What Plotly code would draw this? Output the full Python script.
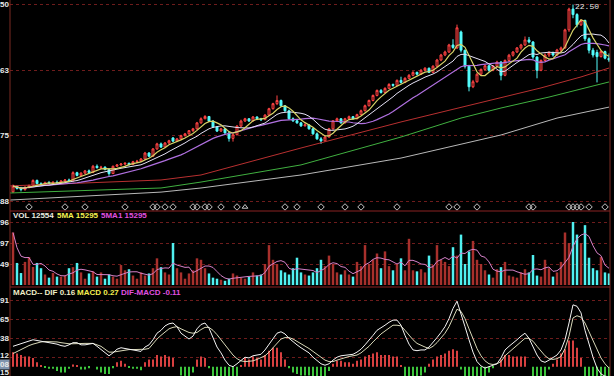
import plotly.graph_objects as go
import pandas as pd

# ---------------- data ----------------
opens = [14.30,14.55,14.45,14.40,14.50,14.58,14.80,14.66,14.62,14.70,
         14.68,14.72,14.70,14.78,14.82,14.78,15.14,15.02,15.12,15.22,
         15.15,15.42,15.36,15.38,15.28,15.10,15.42,15.48,15.52,15.55,
         15.50,15.62,15.64,15.74,16.00,15.86,16.18,16.40,16.26,16.44,
         16.66,16.52,16.62,16.76,16.84,16.98,17.06,17.32,17.50,17.60,
         17.40,17.14,16.96,17.06,16.88,16.64,16.80,17.18,17.40,17.50,
         17.40,17.58,17.50,17.46,17.66,17.94,18.16,18.30,18.07,17.85,
         17.50,17.41,17.32,17.19,17.23,17.06,16.84,16.62,16.53,16.70,
         17.06,17.41,17.50,17.32,17.50,17.59,17.50,17.68,17.85,18.07,
         18.30,18.52,18.74,18.65,18.83,19.00,18.96,19.18,19.09,19.27,
         19.40,19.53,19.45,19.62,19.71,19.53,19.80,20.07,20.29,20.42,
         20.73,20.60,21.30,20.50,19.80,18.90,19.12,19.45,19.66,19.82,
         19.62,19.80,19.98,19.40,20.05,20.28,20.42,20.60,20.73,20.95,
         20.86,20.20,19.62,20.05,20.29,20.40,20.29,20.51,20.60,21.39,
         22.30,22.06,21.61,21.80,21.00,20.50,20.40,20.22,20.44,20.15]
highs = [14.62,14.60,14.52,14.55,14.62,14.85,14.84,14.72,14.75,14.78,
         14.76,14.80,14.82,14.86,14.88,15.20,15.18,15.16,15.26,15.28,
         15.48,15.50,15.44,15.42,15.32,15.45,15.52,15.56,15.60,15.58,
         15.66,15.70,15.78,16.05,16.04,16.22,16.45,16.46,16.48,16.58,
         16.70,16.66,16.80,16.88,17.00,17.10,17.36,17.56,17.66,17.62,
         17.44,17.18,17.10,17.08,16.92,16.84,17.22,17.46,17.54,17.52,
         17.62,17.60,17.54,17.70,17.98,18.20,18.52,18.34,18.10,17.90,
         17.56,17.48,17.36,17.30,17.26,17.10,16.90,16.70,16.76,17.10,
         17.44,17.55,17.52,17.54,17.64,17.62,17.72,17.90,18.12,18.34,
         18.56,18.78,18.80,18.88,19.06,19.04,19.22,19.34,19.32,19.46,
         19.58,19.56,19.68,19.76,19.74,19.84,20.12,20.34,20.48,20.78,
         20.98,21.62,21.36,20.52,19.86,19.20,19.50,19.70,19.86,19.84,
         19.84,20.04,20.02,20.10,20.34,20.46,20.64,20.78,21.10,21.08,
         20.90,20.24,20.10,20.36,20.46,20.44,20.56,20.66,21.44,22.36,
         22.50,22.12,21.86,21.84,21.06,20.60,20.52,20.50,20.48,20.36]
lows = [14.25,14.40,14.32,14.35,14.45,14.55,14.62,14.58,14.60,14.64,
        14.62,14.66,14.68,14.72,14.74,14.76,14.98,14.98,15.08,15.10,
        15.12,15.32,15.30,15.24,15.00,15.08,15.40,15.44,15.46,15.44,
        15.48,15.56,15.62,15.72,15.82,15.84,16.14,16.22,16.24,16.40,
        16.48,16.48,16.58,16.72,16.80,16.92,17.02,17.28,17.48,17.36,
        17.10,16.92,16.92,16.84,16.50,16.50,16.78,17.14,17.36,17.36,
        17.38,17.44,17.40,17.44,17.62,17.90,18.10,18.02,17.80,17.46,
        17.36,17.28,17.14,17.16,17.02,16.80,16.58,16.40,16.50,16.68,
        17.02,17.38,17.28,17.30,17.46,17.46,17.48,17.66,17.82,18.04,
        18.26,18.48,18.60,18.62,18.80,18.90,18.94,19.04,19.06,19.24,
        19.36,19.40,19.42,19.58,19.50,19.50,19.76,20.02,20.24,20.38,
        20.56,20.55,20.40,19.70,18.70,18.84,19.08,19.40,19.60,19.56,
        19.58,19.76,19.18,19.36,20.00,20.22,20.38,20.52,20.68,20.80,
        20.12,19.27,19.58,20.00,20.20,20.22,20.26,20.40,20.56,21.30,
        21.90,21.50,21.56,20.90,20.36,20.18,19.09,20.18,20.10,19.98]
closes = [14.55,14.45,14.40,14.50,14.58,14.80,14.66,14.62,14.70,14.68,
          14.72,14.70,14.78,14.82,14.78,15.14,15.02,15.12,15.22,15.15,
          15.42,15.36,15.38,15.28,15.10,15.42,15.48,15.52,15.55,15.50,
          15.62,15.64,15.74,16.00,15.86,16.18,16.40,16.26,16.44,16.54,
          16.52,16.62,16.76,16.84,16.98,17.06,17.32,17.50,17.60,17.40,
          17.14,16.96,17.06,16.88,16.64,16.80,17.18,17.40,17.50,17.40,
          17.58,17.50,17.46,17.66,17.94,18.16,18.30,18.07,17.85,17.50,
          17.41,17.32,17.19,17.23,17.06,16.84,16.62,16.53,16.70,17.06,
          17.41,17.50,17.32,17.50,17.59,17.50,17.68,17.85,18.07,18.30,
          18.52,18.74,18.65,18.83,19.00,18.96,19.18,19.09,19.27,19.40,
          19.53,19.45,19.62,19.71,19.53,19.80,20.07,20.29,20.42,20.73,
          20.62,21.48,20.50,19.80,18.90,19.12,19.45,19.66,19.82,19.62,
          19.80,19.98,19.40,20.05,20.28,20.42,20.60,20.73,20.95,20.86,
          20.20,19.62,20.05,20.29,20.40,20.29,20.51,20.60,21.39,22.30,
          22.06,21.61,21.80,21.00,20.50,20.29,20.22,20.44,20.15,20.07]
volumes = [37500,15750,8550,16500,19950,12900,15750,12000,7500,5250,
           8550,6000,6000,6750,12000,12750,15750,9000,4500,8250,
           9750,6000,9000,4500,7500,6000,4500,14250,10500,11250,
           6750,4500,9000,6750,8250,12000,19050,12750,9000,7500,
           30000,12000,9000,4500,8250,10500,19050,18000,12000,8250,
           5250,4500,3750,3000,4500,8250,6750,5250,4500,6000,
           9000,6750,7500,15000,28500,18000,15000,10500,9000,7500,
           12000,19500,9000,7500,6750,9000,12000,18000,13500,21000,
           15000,9000,7500,10500,7500,6000,16500,13500,28500,15000,
           18000,22500,12000,24000,13500,10500,15000,19050,10500,33000,
           10500,9750,11250,9000,21000,14250,28500,18000,16500,13500,
           27000,21000,36000,15000,24000,31500,18000,15000,10500,7500,
           5250,11250,12750,16500,6750,6000,5250,9000,11250,9000,
           21450,6750,6000,18000,12000,6000,9000,16500,37500,30000,
           45000,36000,30000,42750,19500,12000,10500,19950,9000,8250]
dif = [0.28,0.30,0.32,0.34,0.36,0.37,0.36,0.35,0.34,0.33,
       0.33,0.31,0.29,0.28,0.30,0.33,0.33,0.30,0.30,0.31,
       0.32,0.28,0.24,0.19,0.15,0.19,0.24,0.26,0.25,0.23,
       0.22,0.22,0.21,0.27,0.30,0.37,0.46,0.50,0.56,0.59,
       0.60,0.55,0.46,0.42,0.38,0.42,0.52,0.58,0.60,0.53,
       0.39,0.27,0.19,0.09,0.02,0.00,0.04,0.09,0.13,0.12,
       0.15,0.16,0.17,0.23,0.31,0.39,0.46,0.48,0.45,0.39,
       0.34,0.30,0.26,0.23,0.19,0.13,0.08,0.04,0.02,0.04,
       0.09,0.13,0.15,0.16,0.17,0.17,0.20,0.24,0.30,0.36,
       0.43,0.50,0.53,0.57,0.61,0.64,0.64,0.57,0.43,0.31,
       0.23,0.22,0.23,0.23,0.27,0.33,0.40,0.47,0.55,0.66,
       0.80,0.90,0.74,0.55,0.37,0.20,0.07,0.01,-0.02,0.00,
       0.02,0.04,0.12,0.23,0.28,0.32,0.37,0.42,0.46,0.39,
       0.27,0.16,0.08,0.06,0.09,0.12,0.16,0.23,0.37,0.60,
       0.85,0.83,0.74,0.50,0.30,0.13,-0.02,-0.10,-0.13,-0.14]
dea = [0.18,0.21,0.24,0.27,0.29,0.31,0.33,0.34,0.345,0.345,
       0.345,0.34,0.33,0.32,0.315,0.315,0.32,0.32,0.32,0.32,
       0.32,0.30,0.28,0.24,0.20,0.20,0.21,0.22,0.23,0.235,
       0.235,0.235,0.235,0.24,0.25,0.32,0.38,0.43,0.48,0.52,
       0.54,0.55,0.52,0.49,0.47,0.46,0.47,0.51,0.54,0.54,
       0.50,0.44,0.37,0.29,0.22,0.16,0.11,0.08,0.07,0.07,
       0.08,0.10,0.12,0.15,0.20,0.26,0.33,0.38,0.40,0.40,
       0.38,0.35,0.32,0.29,0.25,0.21,0.17,0.13,0.09,0.07,
       0.07,0.09,0.11,0.13,0.14,0.15,0.16,0.19,0.23,0.28,
       0.34,0.40,0.45,0.49,0.53,0.57,0.57,0.56,0.50,0.43,
       0.37,0.32,0.29,0.27,0.25,0.28,0.33,0.39,0.46,0.55,
       0.68,0.79,0.76,0.66,0.52,0.38,0.25,0.15,0.08,0.04,
       0.03,0.04,0.07,0.15,0.20,0.25,0.30,0.35,0.39,0.39,
       0.35,0.28,0.21,0.15,0.11,0.10,0.11,0.14,0.25,0.42,
       0.67,0.70,0.68,0.60,0.48,0.36,0.24,0.12,0.04,-0.02]

# long moving averages (bar index, price)
ma_red_idx = [-1, 37, 47, 72, 97, 109, 122, 132, 142, 149]
ma_red_val = [14.56, 14.82, 15.04, 16.22, 17.36, 17.88, 18.41, 18.85, 19.33, 19.72]
ma_green_idx = [-1, 37, 47, 72, 97, 112, 122, 134, 149]
ma_green_val = [14.25, 14.47, 14.73, 15.48, 16.70, 17.53, 17.97, 18.45, 19.11]
ma_gray_idx = [-1, 37, 47, 72, 97, 122, 136, 149]
ma_gray_val = [13.94, 14.29, 14.47, 15.04, 15.78, 16.79, 17.53, 18.01]

diamond_idx = [4, 13, 18, 28, 35, 36, 38, 40, 45, 46, 48, 49, 52, 56, 68, 71, 77, 83, 87, 96,
               109, 111, 116, 129, 130, 139, 140, 141, 142, 144, 148]
triangle_idx = [58]

price_ticks = [13.875, 16.75, 19.625, 22.5]
price_labels = ["88", "75", "63", "50"]
vol_ticks = [15000, 30000, 45000]
vol_labels = ["49", "97", "96"]
macd_ticks = [0.12, 0.385, 0.65, 0.915]
macd_labels = ["12", "38", "65", "91"]

# ---------------- derived ----------------
idx = list(range(len(closes)))
cs = pd.Series(closes)
ma5 = cs.rolling(5, min_periods=1).mean()
ma10 = cs.rolling(10, min_periods=1).mean()
ma20 = cs.rolling(20, min_periods=1).mean()
vma5 = pd.Series(volumes).rolling(5, min_periods=1).mean()
up = [c >= o for o, c in zip(opens, closes)]
vcols = ['#a8302c' if u else '#50f0f0' for u in up]
hist = [2 * (a - b) for a, b in zip(dif, dea)]
hcols = ['#d84040' if h >= 0 else '#3cc43c' for h in hist]

RED_UP = '#ff4444'
CYAN = '#54fcfc'

fig = go.Figure()
fig.add_trace(go.Scatter(x=ma_gray_idx, y=ma_gray_val, mode='lines', line=dict(color='#b8b8b8', width=1), yaxis='y'))
fig.add_trace(go.Scatter(x=ma_green_idx, y=ma_green_val, mode='lines', line=dict(color='#40b040', width=1), yaxis='y'))
fig.add_trace(go.Scatter(x=ma_red_idx, y=ma_red_val, mode='lines', line=dict(color='#b83030', width=1), yaxis='y'))

fig.add_trace(go.Candlestick(x=idx, open=opens, high=highs, low=lows, close=closes,
                             increasing=dict(line=dict(color=RED_UP, width=1), fillcolor='#3a0808'),
                             decreasing=dict(line=dict(color=CYAN, width=1), fillcolor=CYAN),
                             whiskerwidth=0, yaxis='y'))
fig.add_trace(go.Scatter(x=idx, y=ma20, mode='lines', line=dict(color='#b070e0', width=1.2), yaxis='y'))
fig.add_trace(go.Scatter(x=idx, y=ma10, mode='lines', line=dict(color='#e4e0f4', width=1), yaxis='y'))
fig.add_trace(go.Scatter(x=idx, y=ma5, mode='lines', line=dict(color='#d8d468', width=1.2), yaxis='y'))

DIAMOND_Y = 13.64
fig.add_trace(go.Scatter(x=diamond_idx, y=[DIAMOND_Y] * len(diamond_idx), mode='markers',
                         marker=dict(symbol='diamond-open', size=5, color='#c8c8c8', line=dict(width=1)), yaxis='y'))
fig.add_trace(go.Scatter(x=triangle_idx, y=[DIAMOND_Y] * len(triangle_idx), mode='markers',
                         marker=dict(symbol='triangle-up-open', size=5, color='#c8c8c8', line=dict(width=1)), yaxis='y'))

fig.add_trace(go.Bar(x=idx, y=volumes, marker=dict(color=vcols, line=dict(width=0)), width=0.62, yaxis='y2'))
fig.add_trace(go.Scatter(x=idx, y=vma5, mode='lines', line=dict(color='#d480c8', width=1), yaxis='y2'))

fig.add_trace(go.Bar(x=idx, y=hist, marker=dict(color=hcols, line=dict(width=0)), width=0.3, yaxis='y3'))
fig.add_trace(go.Scatter(x=idx, y=dea, mode='lines', line=dict(color='#d8d8b8', width=1), yaxis='y3'))
fig.add_trace(go.Scatter(x=idx, y=dif, mode='lines', line=dict(color='#f4f4f4', width=1), yaxis='y3'))

H = 376.0
def py(px):
    return 1 - px / H

GRID = '#6e1c1c'
common_y = dict(showticklabels=False, showgrid=True, gridcolor=GRID, griddash='dot', gridwidth=1,
                zeroline=False, showline=False, ticks='', fixedrange=True)

fig.update_layout(
    width=614, height=376, margin=dict(l=10, r=4, t=0, b=0),
    paper_bgcolor='black', plot_bgcolor='black', showlegend=False, template='none',
    xaxis=dict(range=[-0.75, 149.25], showticklabels=False, showgrid=False, zeroline=False,
               showline=False, ticks='', anchor='y3', rangeslider=dict(visible=False), fixedrange=True),
    yaxis=dict(domain=[py(211), 1], range=[13.463, 22.697], tickvals=price_ticks, anchor='x', **common_y),
    yaxis2=dict(domain=[py(287), py(211)], range=[-1430, 52860], tickvals=vol_ticks, anchor='x', **common_y),
    yaxis3=dict(domain=[0, py(287)], range=[-0.128, 1.095], tickvals=macd_ticks, anchor='x', **common_y),
    barmode='overlay',
)

BORDER = '#8a2222'
shapes = [
    dict(type='line', xref='paper', yref='paper', x0=0, x1=1, y0=py(211), y1=py(211), line=dict(color=BORDER, width=1)),
    dict(type='line', xref='paper', yref='paper', x0=0, x1=1, y0=py(287), y1=py(287), line=dict(color=BORDER, width=1)),
    dict(type='line', xref='paper', yref='paper', x0=0, x1=0, y0=0, y1=1, line=dict(color='#7a2a22', width=1)),
    dict(type='line', xref='paper', yref='paper', x0=1, x1=1, y0=0, y1=1, line=dict(color='#7a2a22', width=1)),
]
fig.update_layout(shapes=shapes)

TF = "Liberation Sans, Arial, sans-serif"
ann = []
def px_x(px):
    return (px - 10) / 600.0

def label(text, px, ypx, color, size=8):
    ann.append(dict(text='<b>' + text + '</b>', xref='paper', yref='paper', x=px_x(px), y=py(ypx),
                    xanchor='left', yanchor='middle', showarrow=False, borderpad=0,
                    font=dict(family=TF, size=size, color=color)))

label('VOL 12554', 12, 215, '#ecece0')
label('5MA 15295', 56, 215, '#f4f050')
label('5MA1 15295', 100, 215, '#e050e0')
label('MACD-- DIF 0.16', 12, 292, '#eeeec8')
label('MACD 0.27', 76, 292, '#f4f050')
label('DIF-MACD -0.11', 120, 292, '#e050e0')

def axlabel(text, yref, yval, bg=None):
    d = dict(text='<b>' + text + '</b>', xref='paper', yref=yref, x=px_x(10), y=yval,
             xanchor='right', yanchor='middle', showarrow=False, borderpad=0,
             font=dict(family=TF, size=8, color='#e8e8e8'))
    if bg:
        d['bgcolor'] = bg
    ann.append(d)

for v, t in zip(price_ticks, price_labels):
    axlabel(t, 'y', v)
for v, t in zip(vol_ticks, vol_labels):
    axlabel(t, 'y2', v)
axlabel(macd_labels[3], 'y3', macd_ticks[3])
axlabel(macd_labels[2], 'y3', macd_ticks[2])
axlabel(macd_labels[1], 'y3', macd_ticks[1])
axlabel(macd_labels[0], 'y3', 0.15)
axlabel('08', 'y3', 0.025, bg='#7f93ad')
axlabel('15', 'y3', -0.085)

ann.append(dict(text='22.50', xref='x', yref='y', x=140.2, y=22.40, xanchor='left', yanchor='middle',
                showarrow=False, borderpad=0,
                font=dict(family='Liberation Mono, DejaVu Sans Mono, monospace', size=8, color='#e8e8e8')))
fig.update_layout(annotations=ann)

fig.write_html('out.html')
